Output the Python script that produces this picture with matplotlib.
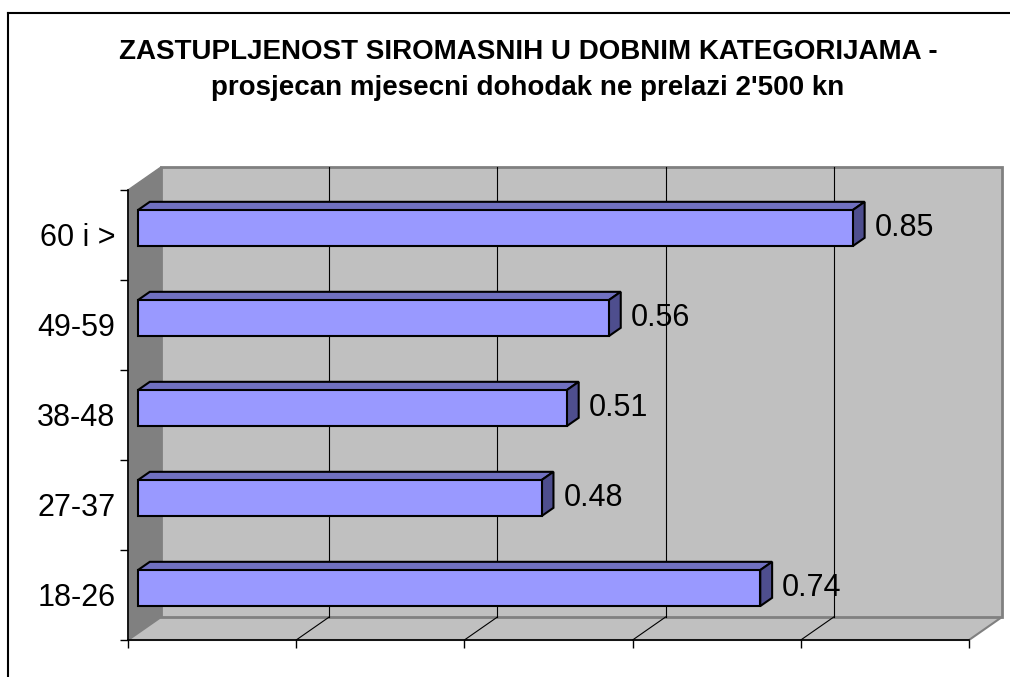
import matplotlib.pyplot as plt
from matplotlib.patches import Polygon, Rectangle
from matplotlib.lines import Line2D

plt.rcParams['font.family'] = ['Liberation Sans', 'DejaVu Sans']

categories = ["18-26", "27-37", "38-48", "49-59", "60 i >"]
values = [0.74, 0.48, 0.51, 0.56, 0.85]
xticks = [0.0, 0.2, 0.4, 0.6, 0.8, 1.0]
title1 = "ZASTUPLJENOST SIROMASNIH U DOBNIM KATEGORIJAMA -"
title2 = "prosjecan mjesecni dohodak ne prelazi 2'500 kn"

W, H = 1010, 677
fig = plt.figure(figsize=(W / 100, H / 100), dpi=100)

# outer frame (only top and left visible)
fig.add_artist(Line2D([8 / W, 8 / W], [0, 1 - 13 / H], color='black', lw=1.5))
fig.add_artist(Line2D([8 / W, 1], [1 - 13 / H, 1 - 13 / H], color='black', lw=1.5))

fig.text(528 / W, 1 - 59 / H, title1, ha='center', va='baseline', fontsize=20, fontweight='bold')
fig.text(528 / W, 1 - 95 / H, title2, ha='center', va='baseline', fontsize=20, fontweight='bold')

ax = fig.add_axes([128 / W, 1 - 640 / H, 841 / W, 450 / H])
ax.set_xlim(0, 1)
ax.set_ylim(0, 5)
ax.patch.set_visible(False)

# 3d depth in data units
DX = 33 / 841
DY = 23 / 90
n = len(categories)

# side wall, floor, back wall
ax.add_patch(Polygon([(0, 0), (DX, DY), (DX, n + DY), (0, n)], closed=True,
                     facecolor='#808080', edgecolor='#808080', lw=1, zorder=1, clip_on=False))
ax.add_patch(Polygon([(0, 0), (1, 0), (1 + DX, DY), (DX, DY)], closed=True,
                     facecolor='#c0c0c0', edgecolor='#808080', lw=1.5, zorder=1, clip_on=False))
ax.add_patch(Rectangle((DX, DY), 1, n, facecolor='#c0c0c0', edgecolor='#808080',
                       lw=2, zorder=1, clip_on=False))
for t in xticks[1:-1]:
    ax.plot([t + DX, t + DX], [DY, n + DY], color='black', lw=0.8, zorder=2, clip_on=False)
    ax.plot([t, t + DX], [0, DY], color='black', lw=0.8, zorder=2, clip_on=False)

# bars
f0, fd = 0.3, 0.36
bh = 0.4
for i, v in enumerate(values):
    x0 = f0 * DX
    x1 = v + f0 * DX
    yb = i + 0.5 - bh / 2 + f0 * DY
    yt = yb + bh
    ddx, ddy = fd * DX, fd * DY
    ax.add_patch(Polygon([(x0, yt), (x1, yt), (x1 + ddx, yt + ddy), (x0 + ddx, yt + ddy)],
                         closed=True, facecolor='#7070c0', edgecolor='black', lw=1.5,
                         zorder=3, clip_on=False))
    ax.add_patch(Polygon([(x1, yb), (x1 + ddx, yb + ddy), (x1 + ddx, yt + ddy), (x1, yt)],
                         closed=True, facecolor='#4e4e8e', edgecolor='black', lw=1.5,
                         zorder=3, clip_on=False))
    ax.add_patch(Rectangle((x0, yb), v, bh, facecolor='#9999ff', edgecolor='black',
                           lw=1.5, zorder=4, clip_on=False))
    ax.text(x1 + ddx + 0.012, i + 0.5 + f0 * DY, f"{v:.2f}", ha='left', va='center',
            fontsize=22, zorder=5)

# axes
for s in ['top', 'right']:
    ax.spines[s].set_visible(False)
ax.spines['left'].set_linewidth(1.2)
ax.spines['bottom'].set_linewidth(1.2)
ax.spines['left'].set_zorder(2)
ax.spines['bottom'].set_zorder(2)
ax.set_xticks(xticks)
ax.set_xticklabels([])
ax.tick_params(axis='x', direction='out', length=6, width=1, color='black')
ax.set_yticks(range(n + 1))
ax.set_yticklabels([])
ax.set_yticks([i + 0.5 for i in range(n)], minor=True)
ax.set_yticklabels(categories, minor=True, fontsize=22)
ax.tick_params(axis='y', which='major', direction='out', length=6, width=1)
ax.tick_params(axis='y', which='minor', length=0, pad=9)

fig.savefig("out.png", dpi=100)
